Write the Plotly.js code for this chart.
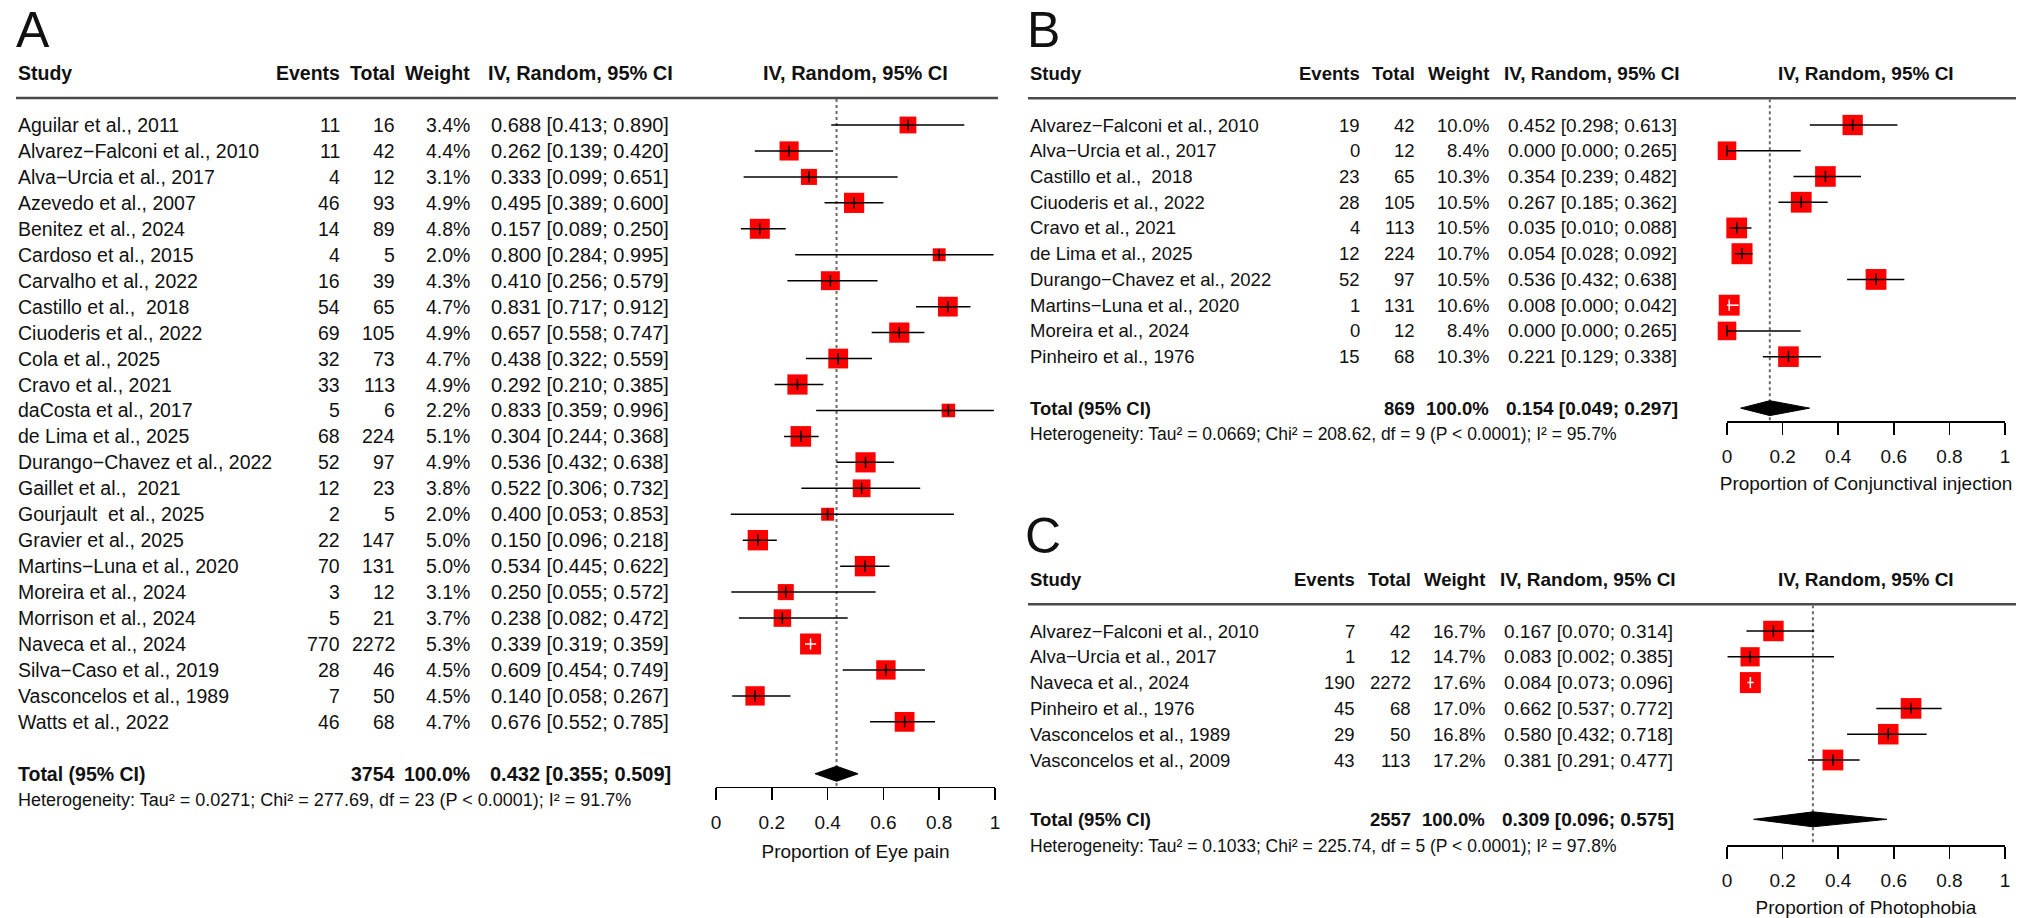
<!DOCTYPE html>
<html>
<head>
<meta charset="utf-8">
<script src="https://cdn.plot.ly/plotly-3.0.1.min.js"></script>
<style>html,body{margin:0;padding:0;background:#fff}#chart{width:2031px;height:918px}</style>
</head>
<body>
<div id="chart"></div>
<script>
const W = 2031, H = 918;
const FONT = '"Liberation Sans", Arial, Helvetica, sans-serif';

// ---------------- Panel A : Eye pain ----------------
const studiesA = ['Aguilar et al., 2011','Alvarez\u2212Falconi et al., 2010','Alva\u2212Urcia et al., 2017','Azevedo et al., 2007','Benitez et al., 2024','Cardoso et al., 2015','Carvalho et al., 2022','Castillo et al., \u00a02018','Ciuoderis et al., 2022','Cola et al., 2025','Cravo et al., 2021','daCosta et al., 2017','de Lima et al., 2025','Durango\u2212Chavez et al., 2022','Gaillet et al., \u00a02021','Gourjault \u00a0et al., 2025','Gravier et al., 2025','Martins\u2212Luna et al., 2020','Moreira et al., 2024','Morrison et al., 2024','Naveca et al., 2024','Silva\u2212Caso et al., 2019','Vasconcelos et al., 1989','Watts et al., 2022'];
const eventsA  = [11,11,4,46,14,4,16,54,69,32,33,5,68,52,12,2,22,70,3,5,770,28,7,46];
const totalsA  = [16,42,12,93,89,5,39,65,105,73,113,6,224,97,23,5,147,131,12,21,2272,46,50,68];
const weightsA = [3.4,4.4,3.1,4.9,4.8,2.0,4.3,4.7,4.9,4.7,4.9,2.2,5.1,4.9,3.8,2.0,5.0,5.0,3.1,3.7,5.3,4.5,4.5,4.7];
const estA   = [0.688,0.262,0.333,0.495,0.157,0.800,0.410,0.831,0.657,0.438,0.292,0.833,0.304,0.536,0.522,0.400,0.150,0.534,0.250,0.238,0.339,0.609,0.140,0.676];
const lowerA = [0.413,0.139,0.099,0.389,0.089,0.284,0.256,0.717,0.558,0.322,0.210,0.359,0.244,0.432,0.306,0.053,0.096,0.445,0.055,0.082,0.319,0.454,0.058,0.552];
const upperA = [0.890,0.420,0.651,0.600,0.250,0.995,0.579,0.912,0.747,0.559,0.385,0.996,0.368,0.638,0.732,0.853,0.218,0.622,0.572,0.472,0.359,0.749,0.267,0.785];
const pooledA = [0.432, 0.355, 0.509];
const sumTotalA = 3754;
const hetA = [0.0271, 277.69, 23, 91.7];
const xTitleA = 'Proportion of Eye pain';

// ---------------- Panel B : Conjunctival injection ----------------
const studiesB = ['Alvarez\u2212Falconi et al., 2010','Alva\u2212Urcia et al., 2017','Castillo et al., \u00a02018','Ciuoderis et al., 2022','Cravo et al., 2021','de Lima et al., 2025','Durango\u2212Chavez et al., 2022','Martins\u2212Luna et al., 2020','Moreira et al., 2024','Pinheiro et al., 1976'];
const eventsB  = [19,0,23,28,4,12,52,1,0,15];
const totalsB  = [42,12,65,105,113,224,97,131,12,68];
const weightsB = [10.0,8.4,10.3,10.5,10.5,10.7,10.5,10.6,8.4,10.3];
const estB   = [0.452,0.000,0.354,0.267,0.035,0.054,0.536,0.008,0.000,0.221];
const lowerB = [0.298,0.000,0.239,0.185,0.010,0.028,0.432,0.000,0.000,0.129];
const upperB = [0.613,0.265,0.482,0.362,0.088,0.092,0.638,0.042,0.265,0.338];
const pooledB = [0.154, 0.049, 0.297];
const sumTotalB = 869;
const hetB = [0.0669, 208.62, 9, 95.7];
const xTitleB = 'Proportion of Conjunctival injection';

// ---------------- Panel C : Photophobia ----------------
const studiesC = ['Alvarez\u2212Falconi et al., 2010','Alva\u2212Urcia et al., 2017','Naveca et al., 2024','Pinheiro et al., 1976','Vasconcelos et al., 1989','Vasconcelos et al., 2009'];
const eventsC  = [7,1,190,45,29,43];
const totalsC  = [42,12,2272,68,50,113];
const weightsC = [16.7,14.7,17.6,17.0,16.8,17.2];
const estC   = [0.167,0.083,0.084,0.662,0.580,0.381];
const lowerC = [0.070,0.002,0.073,0.537,0.432,0.291];
const upperC = [0.314,0.385,0.096,0.772,0.718,0.477];
const pooledC = [0.309, 0.096, 0.575];
const sumTotalC = 2557;
const hetC = [0.1033, 225.74, 5, 97.8];
const xTitleC = 'Proportion of Photophobia';

// ---------------- shared labels ----------------
const headerLabels = ['Study','Events','Total','Weight','IV, Random, 95% CI'];
const totalLabel = 'Total (95% CI)';
const tickVals = [0,0.2,0.4,0.6,0.8,1];
const tickText = ['0','0.2','0.4','0.6','0.8','1'];

// ---------------- layout geometry (pixels / row offsets) ----------------
const panels = [
  {label:'A', studies:studiesA, ev:eventsA, tot:totalsA, w:weightsA, est:estA, lo:lowerA, hi:upperA, pooled:pooledA, sumN:sumTotalA, het:hetA, xtitle:xTitleA,
   row0:125, step:25.95, left:17, labelX:15, colEv:341, colN:396, colW:471, colCI:580, x0:716, x1:995, lineR:998, fs:19.5, cfs:20, hfs:18,
   totOff:2, hetOff:3, axisOff:2.5, standoff:12, ax:''},
  {label:'B', studies:studiesB, ev:eventsB, tot:totalsB, w:weightsB, est:estB, lo:lowerB, hi:upperB, pooled:pooledB, sumN:sumTotalB, het:hetB, xtitle:xTitleB,
   row0:125, step:25.74, left:1029, labelX:1026, colEv:1361, colN:1416, colW:1490, colCI:1592, x0:1727, x1:2005, lineR:2016, fs:18.5, cfs:19, hfs:17.5,
   totOff:2, hetOff:3, axisOff:2.5, standoff:10, ax:'2'},
  {label:'C', studies:studiesC, ev:eventsC, tot:totalsC, w:weightsC, est:estC, lo:lowerC, hi:upperC, pooled:pooledC, sumN:sumTotalC, het:hetC, xtitle:xTitleC,
   row0:631, step:25.8, left:1029, labelX:1024, colEv:1356, colN:1412, colW:1486, colCI:1588, x0:1727, x1:2005, lineR:2016, fs:18.5, cfs:19, hfs:17.5,
   totOff:2.3, hetOff:3.35, axisOff:3.3, standoff:10, ax:'3'}
];

const px = v => v / W;
const pyp = v => 1 - v / H;
const fmtCI = (e, l, u) => e.toFixed(3) + ' [' + l.toFixed(3) + '; ' + u.toFixed(3) + ']';

const traces = [], annotations = [], shapes = [];
const layout = {
  width: W, height: H, margin: {l:0, r:0, t:0, b:0},
  paper_bgcolor: '#fff', plot_bgcolor: 'rgba(0,0,0,0)', showlegend: false,
  font: {family: FONT, color: '#111'}
};

panels.forEach(p => {
  const n = p.studies.length;
  const rows = p.studies.map((_, i) => i);
  const rowPx = r => p.row0 + r * p.step;
  const lastRow = n - 1;
  const totRow = lastRow + p.totOff, hetRow = lastRow + p.hetOff;
  const yBottom = lastRow + p.axisOff, yTop = -1;
  const xa = 'x' + p.ax, ya = 'y' + p.ax;
  const unit = p.x1 - p.x0;

  layout['xaxis' + p.ax] = {
    domain: [px(p.x0), px(p.x1)], range: [0, 1], anchor: ya, fixedrange: true,
    showline: true, linecolor: '#000', linewidth: 1.5, mirror: false,
    ticks: 'outside', ticklen: 12, tickwidth: 1.5, tickcolor: '#000', ticklabelstandoff: 6,
    tickmode: 'array', tickvals: tickVals, ticktext: tickText,
    tickfont: {family: FONT, size: 19, color: '#111'},
    showgrid: false, zeroline: false,
    title: {text: p.xtitle, font: {family: FONT, size: 19, color: '#111'}, standoff: p.standoff}
  };
  layout['yaxis' + p.ax] = {
    domain: [pyp(rowPx(yBottom)), pyp(rowPx(yTop))], range: [yBottom, yTop],
    anchor: xa, visible: false, fixedrange: true
  };

  // pooled estimate reference line
  traces.push({x: [p.pooled[0], p.pooled[0]], y: [yTop, yBottom], xaxis: xa, yaxis: ya, mode: 'lines',
    line: {color: '#6a6a6a', width: 2, dash: 'dot'}, hoverinfo: 'skip', cliponaxis: false});

  // squares sized by weight
  const wmax = Math.max(...p.w);
  const sides = p.w.map(w => 21 * Math.sqrt(w / wmax));
  traces.push({x: p.est, y: rows, xaxis: xa, yaxis: ya, mode: 'markers',
    marker: {symbol: 'square', size: sides, color: '#ff0000', opacity: 1, line: {width: 0}}, hoverinfo: 'skip', cliponaxis: false});

  // confidence interval lines (white when entirely inside the square)
  const inside = rows.map(i => (p.est[i] - p.lo[i]) * unit < sides[i] / 2 && (p.hi[i] - p.est[i]) * unit < sides[i] / 2);
  const segB = {x: [], y: []}, segW = {x: [], y: []};
  rows.forEach(i => {
    const s = inside[i] ? segW : segB;
    s.x.push(p.lo[i], p.hi[i], null);
    s.y.push(i, i, null);
  });
  traces.push({x: segB.x, y: segB.y, xaxis: xa, yaxis: ya, mode: 'lines', line: {color: '#000', width: 1.5}, hoverinfo: 'skip', cliponaxis: false});
  traces.push({x: segW.x, y: segW.y, xaxis: xa, yaxis: ya, mode: 'lines', line: {color: '#fff', width: 1.5}, hoverinfo: 'skip', cliponaxis: false});
  const tickCols = inside.map(b => b ? '#fff' : '#000');
  traces.push({x: p.est, y: rows, xaxis: xa, yaxis: ya, mode: 'markers',
    marker: {symbol: 'line-ns', size: 8, color: tickCols, opacity: 1, line: {width: 1.5, color: tickCols}}, hoverinfo: 'skip', cliponaxis: false});

  // pooled diamond
  const dh = 0.29;
  traces.push({x: [p.pooled[1], p.pooled[0], p.pooled[2], p.pooled[0], p.pooled[1]],
    y: [totRow, totRow - dh, totRow, totRow + dh, totRow], xaxis: xa, yaxis: ya,
    mode: 'lines', fill: 'toself', fillcolor: '#000', line: {color: '#000', width: 1}, hoverinfo: 'skip', cliponaxis: false});

  // header rule
  shapes.push({type: 'line', xref: 'paper', yref: 'paper', x0: px(p.left - 1), x1: px(p.lineR),
    y0: pyp(rowPx(-1.04)), y1: pyp(rowPx(-1.04)), line: {color: '#4a4a4a', width: 2.5}});

  const ann = (text, xPx, row, xanchor, size, bold) => ({
    text: bold ? '<b>' + text + '</b>' : text, x: px(xPx), xref: 'paper', y: pyp(rowPx(row)), yref: 'paper',
    xanchor: xanchor, yanchor: 'middle', showarrow: false, borderpad: 0,
    font: {family: FONT, size: size, color: '#111'}
  });

  // panel letter
  annotations.push(ann(p.label, p.labelX, -3.68, 'left', 50, false));
  // header row
  annotations.push(ann(headerLabels[0], p.left, -2, 'left', p.fs, true));
  annotations.push(ann(headerLabels[1], p.colEv, -2, 'right', p.fs, true));
  annotations.push(ann(headerLabels[2], p.colN, -2, 'right', p.fs, true));
  annotations.push(ann(headerLabels[3], p.colW, -2, 'right', p.fs, true));
  annotations.push(ann(headerLabels[4], p.colCI, -2, 'center', p.cfs, true));
  annotations.push(ann(headerLabels[4], (p.x0 + p.x1) / 2, -2, 'center', p.cfs, true));
  // study rows
  rows.forEach(i => {
    annotations.push(ann(p.studies[i], p.left, i, 'left', p.fs, false));
    annotations.push(ann(String(p.ev[i]), p.colEv, i, 'right', p.fs, false));
    annotations.push(ann(String(p.tot[i]), p.colN, i, 'right', p.fs, false));
    annotations.push(ann(p.w[i].toFixed(1) + '%', p.colW, i, 'right', p.fs, false));
    annotations.push(ann(fmtCI(p.est[i], p.lo[i], p.hi[i]), p.colCI, i, 'center', p.cfs, false));
  });
  // total row
  const wsum = p.w.reduce((a, b) => a + b, 0);
  annotations.push(ann(totalLabel, p.left, totRow, 'left', p.fs, true));
  annotations.push(ann(String(p.sumN), p.colN, totRow, 'right', p.fs, true));
  annotations.push(ann((Math.round(wsum / 10) * 10).toFixed(1) + '%', p.colW, totRow, 'right', p.fs, true));
  annotations.push(ann(fmtCI(p.pooled[0], p.pooled[1], p.pooled[2]), p.colCI, totRow, 'center', p.cfs, true));
  // heterogeneity
  const hetText = 'Heterogeneity: Tau\u00b2 = ' + p.het[0].toFixed(4) + '; Chi\u00b2 = ' + p.het[1].toFixed(2) +
    ', df = ' + p.het[2] + ' (P &lt; 0.0001); I\u00b2 = ' + p.het[3].toFixed(1) + '%';
  annotations.push(ann(hetText, p.left, hetRow, 'left', p.hfs, false));
});

layout.annotations = annotations;
layout.shapes = shapes;

Plotly.newPlot('chart', traces, layout, {displayModeBar: false, staticPlot: true});
</script>
</body>
</html>
